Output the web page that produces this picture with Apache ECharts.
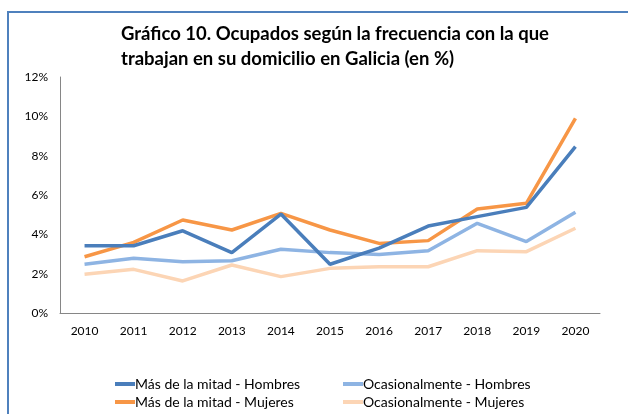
<!DOCTYPE html>
<html lang="es">
<head>
<meta charset="UTF-8">
<title>Gráfico 10</title>
<style>
  html, body { margin: 0; padding: 0; background: #fff; }
  #chart { width: 628px; height: 414px; }
</style>
</head>
<body>
<div id="chart"></div>
<script src="https://cdn.jsdelivr.net/npm/echarts@6/dist/echarts.min.js"></script>
<script>
// años
var years = ['2010', '2011', '2012', '2013', '2014', '2015', '2016', '2017', '2018', '2019', '2020'];

// % de ocupados
var mitadHombres = [3.42, 3.42, 4.18, 3.07, 5.03, 2.48, 3.3, 4.42, 4.9, 5.37, 8.46];
var mitadMujeres = [2.86, 3.59, 4.73, 4.22, 5.07, 4.22, 3.54, 3.68, 5.29, 5.58, 9.9];
var ocasHombres = [2.48, 2.78, 2.61, 2.66, 3.24, 3.07, 2.98, 3.17, 4.56, 3.63, 5.12];
var ocasMujeres = [1.97, 2.22, 1.63, 2.44, 1.85, 2.27, 2.35, 2.35, 3.17, 3.12, 4.31];

var names = ['Más de la mitad - Hombres', 'Más de la mitad - Mujeres',
             'Ocasionalmente - Hombres', 'Ocasionalmente - Mujeres'];
var colors = ['#4a7ebb', '#f79646', '#8eb4e3', '#fcd5b5'];
var font = 'Lato, "Liberation Sans", sans-serif';

function serie(i, data) {
  return {
    name: names[i],
    type: 'line',
    data: data,
    showSymbol: false,
    symbol: 'none',
    lineStyle: { width: 3.5, color: colors[i] },
    itemStyle: { color: colors[i] },
    z: 10 - i
  };
}

var legendText = { fontSize: 14, lineHeight: 16, color: '#000', padding: [0, 0, 0, -5] };

function leyenda(left, items) {
  return {
    left: left,
    top: 376,
    height: 38,
    padding: 0,
    orient: 'vertical',
    itemGap: 2,
    itemWidth: 20,
    itemHeight: 4,
    data: items,
    textStyle: legendText,
    icon: 'rect'
  };
}

var chart = echarts.init(document.getElementById('chart'));
var option = {
  animation: false,
  textStyle: { fontFamily: font },
  title: {
    text: 'Gráfico 10. Ocupados según la frecuencia con la que\ntrabajan en su domicilio en Galicia (en %)',
    left: 116,
    top: 17,
    textStyle: { fontSize: 18.5, fontWeight: 'bold', color: '#000', lineHeight: 25, fontFamily: font }
  },
  graphic: [{
    type: 'rect',
    shape: { x: 8, y: 12, width: 660, height: 440 },
    style: { fill: 'none', stroke: '#4f81bd', lineWidth: 2 },
    silent: true
  }],
  legend: [
    leyenda(115, [names[0], names[1]]),
    leyenda(343, [names[2], names[3]])
  ],
  grid: { left: 60, right: 28, top: 77, bottom: 101 },
  xAxis: {
    type: 'category',
    data: years,
    boundaryGap: true,
    axisLine: { lineStyle: { color: '#868686', width: 1 } },
    axisTick: { show: false },
    axisLabel: { color: '#000', fontSize: 12, margin: 12 }
  },
  yAxis: {
    type: 'value',
    min: 0,
    max: 12,
    interval: 2,
    axisLine: { show: true, lineStyle: { color: '#868686', width: 1 } },
    axisTick: { show: false },
    splitLine: { show: false },
    axisLabel: { color: '#000', fontSize: 12, margin: 12, formatter: '{value}%' }
  },
  series: [
    serie(0, mitadHombres),
    serie(1, mitadMujeres),
    serie(2, ocasHombres),
    serie(3, ocasMujeres)
  ]
};
chart.setOption(option);
</script>
</body>
</html>
